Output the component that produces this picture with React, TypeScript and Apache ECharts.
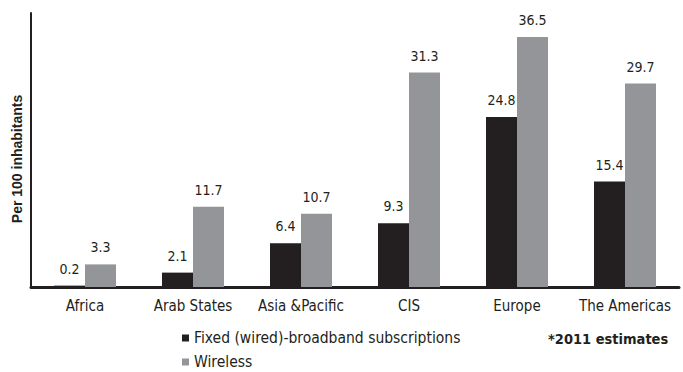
import React, { useEffect, useRef } from "react";
import * as echarts from "echarts";

const categories = ["Africa", "Arab States", "Asia &Pacific", "CIS", "Europe", "The Americas"];
const fixedValues = [0.2, 2.1, 6.4, 9.3, 24.8, 15.4];
const wirelessValues = [3.3, 11.7, 10.7, 31.3, 36.5, 29.7];
const seriesNames = ["Fixed (wired)-broadband subscriptions", "Wireless"];
const yAxisName = "Per 100 inhabitants";
const noteText = "*2011 estimates";

const FONT = "'DejaVu Sans Condensed', 'Roboto', sans-serif";
const DARK = "#231f20";
const GRAY = "#939598";

export default function App() {
  const ref = useRef<HTMLDivElement>(null);
  useEffect(() => {
    if (!ref.current) return;
    const chart = echarts.init(ref.current, undefined, { renderer: "svg" });
    const labelStyle = {
      show: true,
      position: "top" as const,
      distance: 10,
      color: DARK,
      fontFamily: FONT,
      fontSize: 14,
    };
    const legendBase = {
      orient: "horizontal" as const,
      left: 182,
      padding: 0,
      itemWidth: 7,
      itemHeight: 7,
      icon: "rect",
      textStyle: { color: DARK, fontFamily: FONT, fontSize: 15.5, padding: [0, 0, 0, 0] },
    };
    chart.setOption({
      animation: false,
      backgroundColor: "#ffffff",
      grid: { left: 31, right: 4, top: 13, bottom: 85, containLabel: false },
      legend: [
        { ...legendBase, top: 330, data: [seriesNames[0]] },
        { ...legendBase, top: 354, data: [seriesNames[1]] },
      ],
      graphic: [
        {
          type: "text",
          left: 548,
          top: 331,
          style: {
            text: noteText,
            fill: DARK,
            font: "bold 14.5px 'DejaVu Sans Condensed', sans-serif",
          },
        },
        {
          type: "text",
          x: 17,
          y: 159,
          rotation: Math.PI / 2,
          style: {
            text: yAxisName,
            fill: DARK,
            align: "center",
            verticalAlign: "middle",
            font: "bold 14px 'Liberation Sans', Arial, sans-serif",
          },
        },
      ],
      xAxis: {
        type: "category",
        data: categories,
        axisLine: { show: true, lineStyle: { color: DARK, width: 3 } },
        axisTick: { show: false },
        axisLabel: { color: DARK, fontFamily: FONT, fontSize: 15, margin: 11, interval: 0 },
      },
      yAxis: {
        type: "value",
        min: 0,
        max: 40,
        axisLine: { show: true, lineStyle: { color: DARK, width: 2 } },
        axisTick: { show: false },
        axisLabel: { show: false },
        splitLine: { show: false },
      },
      series: [
        {
          name: seriesNames[0],
          type: "bar",
          data: fixedValues,
          barWidth: 31,
          barGap: "0%",
          itemStyle: { color: DARK },
          label: labelStyle,
        },
        {
          name: seriesNames[1],
          type: "bar",
          data: wirelessValues,
          barWidth: 31,
          barGap: "0%",
          itemStyle: { color: GRAY },
          label: labelStyle,
        },
      ],
    });
    return () => chart.dispose();
  }, []);
  return <div ref={ref} style={{ width: 683, height: 372, position: "absolute", left: 0, top: 0 }} />;
}
